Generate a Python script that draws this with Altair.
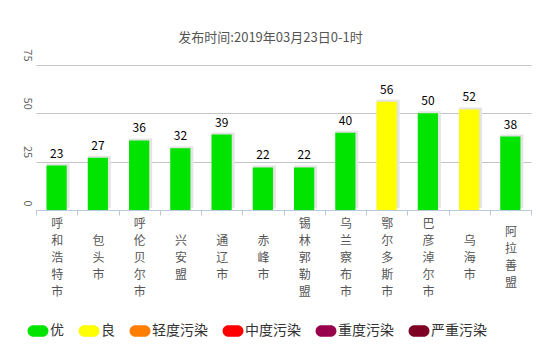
import altair as alt
import pandas as pd

cities = ["呼和浩特市", "包头市", "呼伦贝尔市", "兴安盟", "通辽市", "赤峰市",
          "锡林郭勒盟", "乌兰察布市", "鄂尔多斯市", "巴彦淖尔市", "乌海市", "阿拉善盟"]
values = [23, 27, 36, 32, 39, 22, 22, 40, 56, 50, 52, 38]
levels = ["优", "良", "轻度污染", "中度污染", "重度污染", "严重污染"]
level_colors = ["#00e400", "#ffff00", "#ff7e00", "#ff0000", "#99004c", "#7e0023"]
y_ticks = [0, 25, 50, 75]
title_text = "发布时间:2019年03月23日0-1时"

def level_of(v):
    if v <= 50:
        return levels[0]
    if v <= 100:
        return levels[1]
    if v <= 150:
        return levels[2]
    if v <= 200:
        return levels[3]
    if v <= 300:
        return levels[4]
    return levels[5]

df = pd.DataFrame({"city": cities, "aqi": values,
                   "level": [level_of(v) for v in values]})

FONT = "Noto Sans CJK SC"
pill = "M-0.4,-0.5 L0.4,-0.5 A0.5,0.5 0 0 1 0.4,0.5 L-0.4,0.5 A0.5,0.5 0 0 1 -0.4,-0.5 Z"

x = alt.X("city:N", sort=cities,
          scale=alt.Scale(paddingInner=0, paddingOuter=0),
          axis=alt.Axis(title=None, labelAngle=0, tickBand="extent",
                        labelExpr="split(datum.label, '')",
                        labelLineHeight=17, labelBaseline="middle",
                        labelPadding={"condition": [
                            {"test": "length(datum.label) == 3", "value": 25},
                            {"test": "length(datum.label) == 4", "value": 16.5}],
                            "value": 8},
                        labelFontSize=12, labelColor="#555",
                        labelFont=FONT, labelOverlap=False, labelBound=False,
                        domainColor="#b8c8dd", tickColor="#b8c8dd", tickSize=5,
                        grid=False))
y = alt.Y("aqi:Q", scale=alt.Scale(domain=[0, 75], nice=False),
          axis=alt.Axis(title=None, values=y_ticks, grid=True, gridColor="#c4c4c4",
                        domain=False, ticks=False, labelAngle=90,
                        labelAlign="right", labelBaseline="middle",
                        labelPadding=10, labelOffset=-4, labelFontSize=11,
                        labelColor="#666", labelFont=FONT))

base = alt.Chart(df)

shadow = base.mark_bar(width=23, xOffset=1.5, yOffset=-2, color="#e4e4e4").encode(
    x=x, y=y)

bars = base.mark_bar(width=alt.RelativeBandSize(0.49)).encode(
    x=x, y=y,
    color=alt.Color("level:N", scale=alt.Scale(domain=levels, range=level_colors),
                    legend=alt.Legend(title=None, orient="none", direction="horizontal",
                                      legendX=-10, legendY=254,
                                      symbolType=pill, symbolSize=540,
                                      symbolStrokeWidth=0, symbolOpacity=1,
                                      labelFontSize=14, labelColor="#333",
                                      labelFont=FONT, labelOffset=0,
                                      columnPadding=13)))

labels = base.mark_text(baseline="bottom", dy=-5, fontSize=12, color="#000",
                        font=FONT).encode(x=x, y=y, text="aqi:Q")

chart = (shadow + bars + labels).properties(
    width=495, height=145,
    autosize=alt.AutoSizeParams(type="none"),
    padding={"left": 36, "top": 65, "right": 23, "bottom": 145},
    title=alt.TitleParams(title_text, fontSize=13, color="#555", font=FONT,
                          fontWeight="normal", offset=4, dx=-13, anchor="middle",
                          frame="group"),
).configure_view(stroke=None)

chart.save("out.html", embed_options={"renderer": "svg", "actions": False})
